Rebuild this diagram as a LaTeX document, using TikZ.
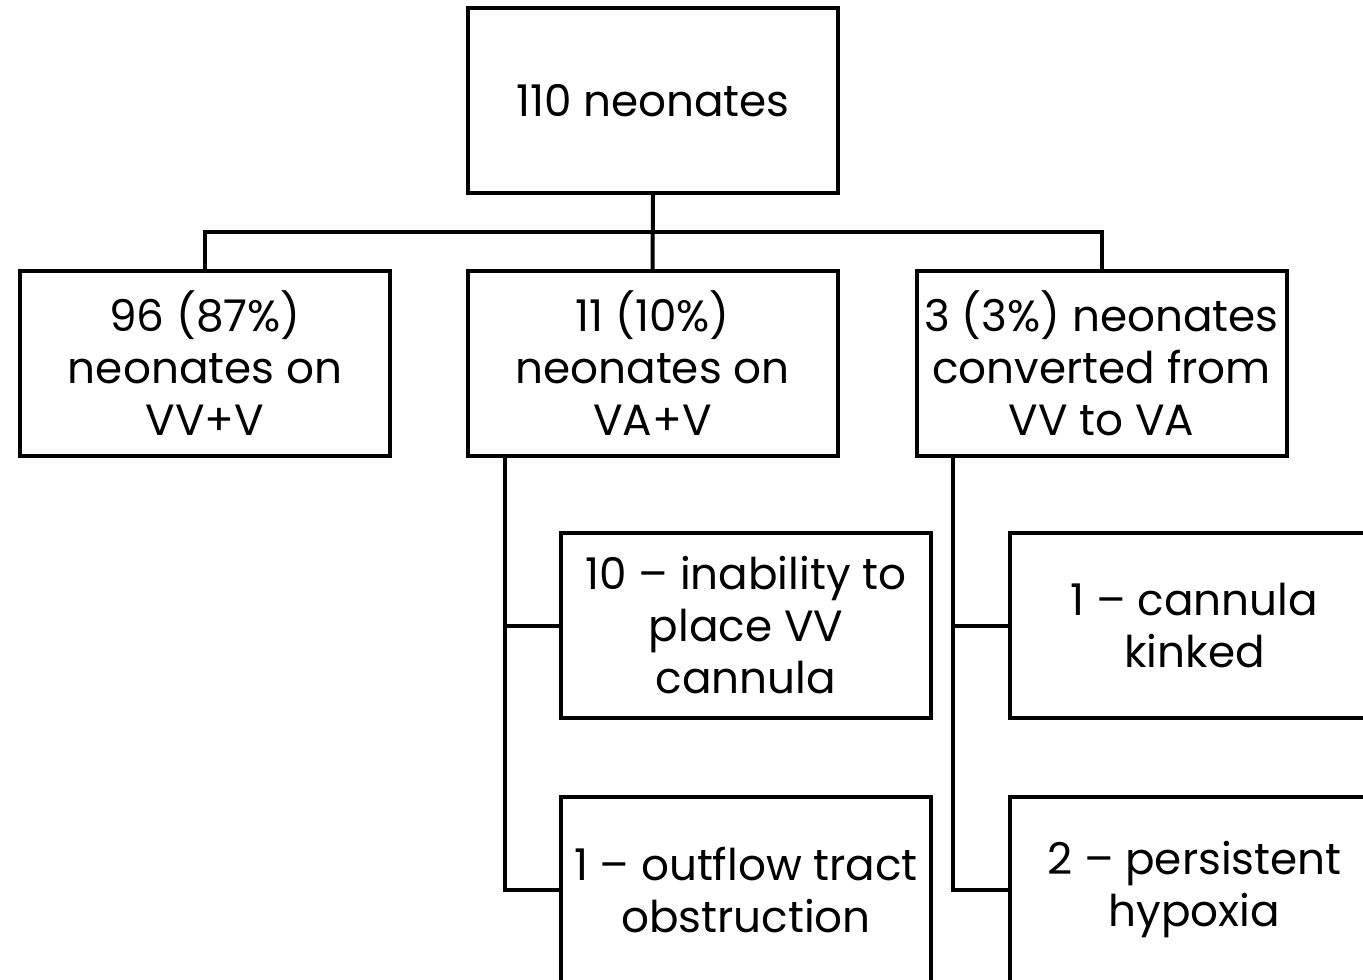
\documentclass[tikz,border=0pt]{standalone}
\usepackage{fontspec}
\setmainfont{Poppins}
\begin{document}
\begin{tikzpicture}[x=0.75pt,y=-0.75pt,
  box/.style={draw=black,line width=3pt,fill=white,rectangle,
    minimum width=277.5pt,minimum height=138.75pt,inner sep=0pt,
    align=center,font=\fontsize{32.8pt}{39pt}\selectfont},
  conn/.style={draw=black,line width=3pt}]
\useasboundingbox (0,0) rectangle (1363,980);
\clip (0,0) rectangle (1363,980);
\fill[white] (0,0) rectangle (1363,980);
\node[box] (top) at (653,100.5) {110 neonates};
\node[box] (L) at (205,363.5) {96 (87\%)\\neonates on\\VV+V};
\node[box] (M) at (652.5,363.5) {11 (10\%)\\neonates on\\VA+V};
\node[box] (R) at (1101.5,363.5) {3 (3\%) neonates\\converted from\\VV to VA};
\node[box] (m1) at (746,625.5) {10 – inability to\\place VV\\cannula};
\node[box] (m2) at (746,889.5) {1 – outflow tract\\obstruction};
\node[box] (r1) at (1194.5,625.5) {1 – cannula\\kinked};
\node[box] (r2) at (1194.5,889.5) {2 – persistent\\hypoxia};
\coordinate (bus) at (652.5,232);
\coordinate (mv) at (505,456);
\coordinate (rv) at (953,456);
\draw[conn] (top.south) -- (M.north);
\draw[conn] (L.north) |- (bus) -| (R.north);
\draw[conn] (mv) |- (m1.west);
\draw[conn] (mv) |- (m2.west);
\draw[conn] (rv) |- (r1.west);
\draw[conn] (rv) |- (r2.west);
\end{tikzpicture}
\end{document}
